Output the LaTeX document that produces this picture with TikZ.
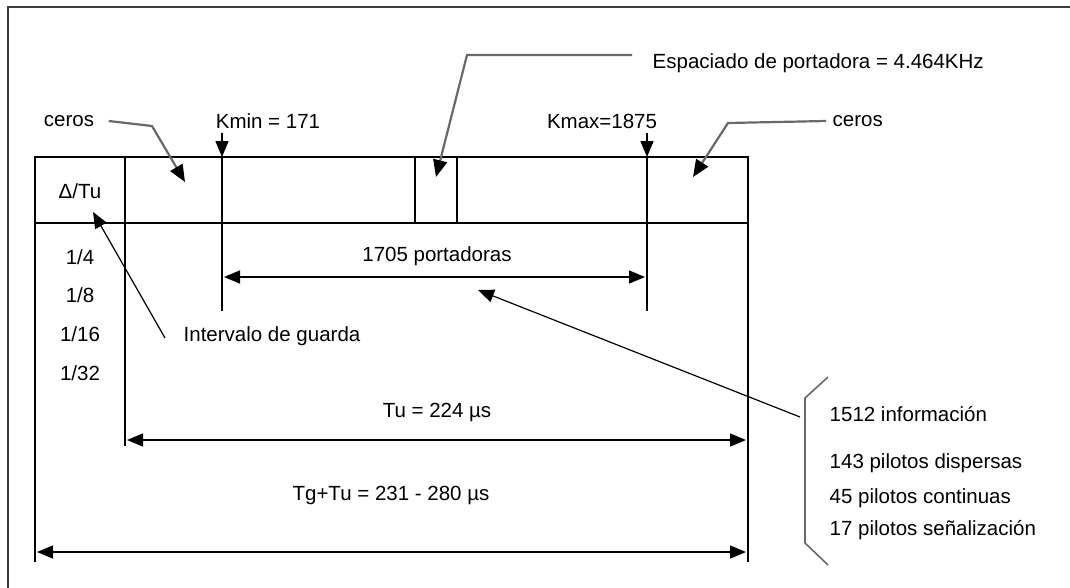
\documentclass[tikz,border=0pt]{standalone}
\usepackage{fontspec}
\setmainfont{Liberation Sans}
\usetikzlibrary{arrows.meta}
\definecolor{leadgray}{RGB}{105,105,105}
\definecolor{framegray}{RGB}{60,60,60}

\begin{document}
\begin{tikzpicture}[x=1pt, y=-1pt, line width=1.4pt,
    >={Triangle[length=16pt,width=13pt]},
    lbl/.style={inner sep=0pt, font=\fontsize{20.5}{24}\selectfont},
    lead/.style={leadgray, line width=2.2pt, -{Triangle[length=17pt,width=14pt,color=black]}},
    fineline/.style={line width=1.2pt, ->}]
    \clip (0,0) rectangle (1070,587);
    \fill[white] (0,0) rectangle (1070,587);
    \draw[framegray, line width=1.8pt] (8,7) rectangle (1100,620);

    % table of the OFDM symbol
    \draw (35,562) -- (35,157) -- (748,157) -- (748,562);
    \draw (35,223) -- (748,223);
    \draw (125,157) -- (125,446);
    \draw (222,157) -- (222,311);
    \draw (647,157) -- (647,311);
    \draw (415,157) -- (415,223);
    \draw (457,157) -- (457,223);

    % labels
    \node[lbl] (cerosL) at (69,121) {ceros};
    \node[lbl] (kmin) at (268,121) {Kmin = 171};
    \node[lbl] (kmax) at (602,121) {Kmax=1875};
    \node[lbl, anchor=west] (cerosR) at (832,121) {ceros};
    \node[lbl, anchor=west] (espac) at (652,63) {Espaciado de portadora = 4.464KHz};
    \node[lbl] (delta) at (80,191) {Δ/Tu};
    \node[lbl] (g4) at (80,257) {1/4};
    \node[lbl] (g8) at (80,295) {1/8};
    \node[lbl] (g16) at (80,334) {1/16};
    \node[lbl] (g32) at (80,373) {1/32};
    \node[lbl, anchor=west] (guarda) at (183,336) {Intervalo de guarda};
    \node[lbl] (port) at (437,256) {1705 portadoras};
    \node[lbl] (tu) at (437,412) {Tu = 224 µs};
    \node[lbl] (tgtu) at (391,495) {Tg+Tu = 231 - 280 µs};
    \node[lbl, anchor=west] (info) at (829,414) {1512 información};
    \node[lbl, anchor=west] (disp) at (829,463) {143 pilotos dispersas};
    \node[lbl, anchor=west] (cont) at (829,498) {45 pilotos continuas};
    \node[lbl, anchor=west] (senal) at (829,530) {17 pilotos señalización};

    % anchor points of the connectors
    \coordinate (kminFoot) at (222,133);
    \coordinate (kminTop) at (222,157);
    \coordinate (kmaxFoot) at (647,133);
    \coordinate (kmaxTop) at (647,157);
    \coordinate (portL) at (224,277);
    \coordinate (portR) at (645,277);
    \coordinate (tuL) at (127,440);
    \coordinate (tuR) at (746,440);
    \coordinate (tgL) at (37,552);
    \coordinate (tgR) at (746,552);
    \coordinate (cerosLtip) at (185,182);
    \coordinate (cerosRtip) at (693,177);
    \coordinate (espacTip) at (436,177);
    \coordinate (deltaTip) at (93,212);
    \coordinate (portTip) at (478,290);

    % connectors
    \draw[->] (kminFoot) -- (kminTop);
    \draw[->] (kmaxFoot) -- (kmaxTop);
    \draw[<->] (portL) -- (portR);
    \draw[<->] (tuL) -- (tuR);
    \draw[<->] (tgL) -- (tgR);
    \draw[lead] ([xshift=14pt]cerosL.east) -- (152,126) -- (cerosLtip);
    \draw[lead] ([xshift=-6pt]cerosR.west) -- (728,123) -- (cerosRtip);
    \draw[lead] ([xshift=-20pt,yshift=8pt]espac.west) -- (467,55) -- (espacTip);
    \draw[fineline] ([xshift=-18pt,yshift=-2pt]guarda.west) -- (deltaTip);
    \draw[fineline] ([xshift=-29pt,yshift=-3pt]info.west) -- (portTip);
    \draw[leadgray, line width=1.6pt] (828,377) -- (805,398) -- (805,543) -- (828,565);
\end{tikzpicture}
\end{document}
